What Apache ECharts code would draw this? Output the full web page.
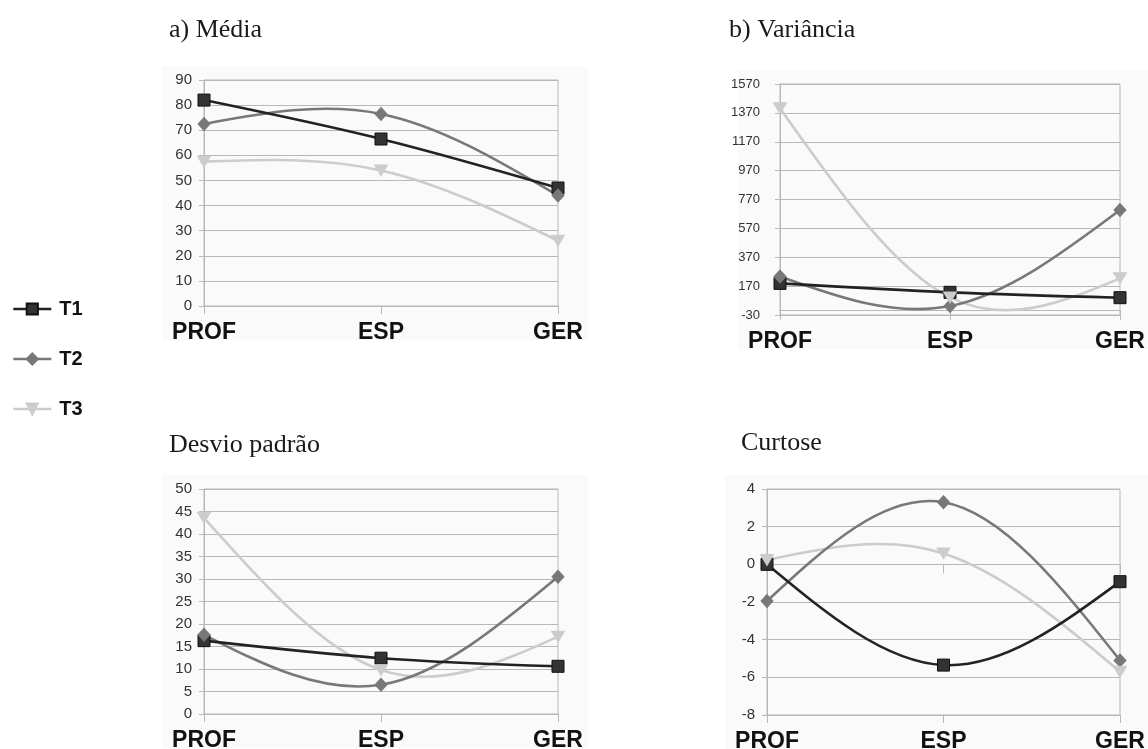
<!DOCTYPE html>
<html>
<head>
<meta charset="utf-8">
<script src="https://cdn.jsdelivr.net/npm/echarts@6/dist/echarts.min.js"></script>
<style>
  html, body { margin: 0; padding: 0; background: #ffffff; overflow: hidden; }
  #chart { width: 1148px; height: 749px; }
</style>
</head>
<body>
<div id="chart"></div>
<script>
// Categories shared by all four panels
const categories = ['PROF', 'ESP', 'GER'];
const seriesNames = ['T1', 'T2', 'T3'];

// a) Média
const mediaT1 = [82, 66.5, 47];
const mediaT2 = [72.5, 76.5, 44];
const mediaT3 = [57.5, 54, 26];

// b) Variância
const varT1 = [189, 127, 90];
const varT2 = [236, 32, 697];
const varT3 = [1402, 92, 224];

// Desvio padrão
const dpT1 = [16.3, 12.4, 10.6];
const dpT2 = [17.6, 6.5, 30.5];
const dpT3 = [43.6, 9.8, 17.2];

// Curtose
const curtT1 = [0, -5.35, -0.92];
const curtT2 = [-1.95, 3.3, -5.1];
const curtT3 = [0.23, 0.58, -5.7];

// Panel titles
const panelTitles = ['a) Média', 'b) Variância', 'Desvio padrão', 'Curtose'];

// Value axis ranges: [min, max, interval]
const axisRanges = [[0, 90, 10], [-30, 1570, 200], [0, 50, 5], [-8, 4, 2]];

const panelData = [
  [mediaT1, mediaT2, mediaT3],
  [varT1, varT2, varT3],
  [dpT1, dpT2, dpT3],
  [curtT1, curtT2, curtT3]
];

// Layout of each panel (pixels)
const grids = [
  { left: 204, top: 80, width: 354, height: 226 },
  { left: 780, top: 84, width: 340, height: 231 },
  { left: 204, top: 489, width: 354, height: 225 },
  { left: 767, top: 489, width: 353, height: 226 }
];
const titlePos = [
  { left: 164, top: 12 },
  { left: 724, top: 12 },
  { left: 164, top: 427 },
  { left: 736, top: 425 }
];
const yLabelFont = [15, 13, 15, 15];
const yLabelMargin = [12, 20, 12, 12];

const gridColor = '#b8b8b8';
const styles = [
  { color: '#333333', border: '#111111', symbol: 'rect', size: 12, rotate: 0, line: '#222222' },
  { color: '#787878', border: '#787878', symbol: 'diamond', size: [12, 13], rotate: 0, line: '#787878' },
  { color: '#cccccc', border: '#cccccc', symbol: 'triangle', size: [13, 11], rotate: 180, line: '#cccccc' }
];

// Natural cubic spline through pixel points, returned as Bezier segments
function splineSegments(pts) {
  const n = pts.length;
  if (n < 2) return [];
  const h = [], M = new Array(n).fill(0);
  for (let i = 0; i < n - 1; i++) h.push(pts[i + 1][0] - pts[i][0]);
  if (n > 2) {
    // tridiagonal system for interior second derivatives
    const a = [], b = [], c = [], d = [];
    for (let i = 1; i < n - 1; i++) {
      a.push(h[i - 1]);
      b.push(2 * (h[i - 1] + h[i]));
      c.push(h[i]);
      d.push(6 * ((pts[i + 1][1] - pts[i][1]) / h[i] - (pts[i][1] - pts[i - 1][1]) / h[i - 1]));
    }
    const m = b.length;
    for (let i = 1; i < m; i++) {
      const w = a[i] / b[i - 1];
      b[i] -= w * c[i - 1];
      d[i] -= w * d[i - 1];
    }
    const sol = new Array(m);
    sol[m - 1] = d[m - 1] / b[m - 1];
    for (let i = m - 2; i >= 0; i--) sol[i] = (d[i] - c[i] * sol[i + 1]) / b[i];
    for (let i = 0; i < m; i++) M[i + 1] = sol[i];
  }
  const segs = [];
  for (let i = 0; i < n - 1; i++) {
    const hi = h[i];
    const slope = (pts[i + 1][1] - pts[i][1]) / hi;
    const d0 = slope - hi * (2 * M[i] + M[i + 1]) / 6;
    const d1 = slope + hi * (M[i] + 2 * M[i + 1]) / 6;
    segs.push({
      x1: pts[i][0], y1: pts[i][1],
      cpx1: pts[i][0] + hi / 3, cpy1: pts[i][1] + d0 * hi / 3,
      cpx2: pts[i + 1][0] - hi / 3, cpy2: pts[i + 1][1] - d1 * hi / 3,
      x2: pts[i + 1][0], y2: pts[i + 1][1]
    });
  }
  return segs;
}

const option = {
  backgroundColor: '#ffffff',
  animation: false,
  title: panelTitles.map((t, i) => ({
    text: t,
    left: titlePos[i].left,
    top: titlePos[i].top,
    textStyle: {
      fontFamily: '"Liberation Serif", "Times New Roman", serif',
      fontWeight: 'normal',
      fontSize: 26,
      color: '#1a1a1a'
    }
  })),
  legend: {
    orient: 'vertical',
    left: 7,
    top: 294,
    itemWidth: 38,
    itemHeight: 14,
    itemGap: 30,
    data: seriesNames,
    lineStyle: { opacity: 1, width: 2.6 },
    textStyle: {
      fontFamily: '"Liberation Sans", Arial, sans-serif',
      fontWeight: 'bold',
      fontSize: 20,
      color: '#111111',
      padding: [0, 0, 0, 3]
    }
  },
  graphic: grids.map(g => ({
    type: 'rect',
    silent: true,
    z: -10,
    shape: { x: g.left - 42, y: g.top - 14, width: g.width + 72, height: g.height + 48 },
    style: { fill: '#fafafa' }
  })),
  grid: grids.map(g => ({
    left: g.left, top: g.top, width: g.width, height: g.height,
    outerBoundsMode: 'none',
    containLabel: false,
    show: true, borderColor: gridColor, borderWidth: 1, backgroundColor: 'transparent'
  })),
  xAxis: [],
  yAxis: [],
  series: []
};

grids.forEach((g, i) => {
  // labelled category axis along the bottom edge
  option.xAxis.push({
    type: 'category',
    gridIndex: i,
    data: categories,
    boundaryGap: false,
    position: 'bottom',
    axisLine: { onZero: false, lineStyle: { color: gridColor } },
    axisTick: { show: i !== 1, length: 8, lineStyle: { color: gridColor } },
    axisLabel: {
      margin: 15,
      fontFamily: '"Liberation Sans", Arial, sans-serif',
      fontWeight: 'bold',
      fontSize: 23,
      color: '#111111'
    },
    splitLine: { show: false }
  });
  option.yAxis.push({
    type: 'value',
    gridIndex: i,
    min: axisRanges[i][0],
    max: axisRanges[i][1],
    interval: axisRanges[i][2],
    axisLine: { show: true, lineStyle: { color: gridColor } },
    axisTick: { show: true, length: 5, lineStyle: { color: gridColor } },
    axisLabel: {
      margin: yLabelMargin[i],
      fontFamily: '"Liberation Sans", Arial, sans-serif',
      fontSize: yLabelFont[i],
      color: '#333333',
      formatter: v => String(v)
    },
    splitLine: { show: true, lineStyle: { color: gridColor, width: 1 } }
  });
});

// Extra category axes sitting on the zero line (variance and kurtosis panels)
[1, 3].forEach(i => {
  option.xAxis.push({
    type: 'category',
    gridIndex: i,
    data: categories,
    boundaryGap: false,
    position: 'bottom',
    axisLine: { onZero: true, onZeroAxisIndex: i, lineStyle: { color: gridColor } },
    axisTick: { show: true, length: 9, lineStyle: { color: gridColor } },
    axisLabel: { show: false },
    splitLine: { show: false }
  });
});

// Markers (line series, line hidden) first, so the legend takes its icons from them
panelData.forEach((sets, i) => {
  sets.forEach((values, k) => {
    const s = styles[k];
    option.series.push({
      name: seriesNames[k],
      type: 'line',
      xAxisIndex: i,
      yAxisIndex: i,
      data: values,
      symbol: s.symbol,
      symbolSize: s.size,
      symbolRotate: s.rotate,
      showAllSymbol: true,
      clip: false,
      z: 10 + k,
      lineStyle: { color: s.line, width: 2.6, opacity: 0 },
      itemStyle: { color: s.color, borderColor: s.border, borderWidth: 1 }
    });
  });
});

// Spline curves through the same values
panelData.forEach((sets, i) => {
  sets.forEach((values, k) => {
    const s = styles[k];
    option.series.push({
      name: seriesNames[k],
      type: 'custom',
      xAxisIndex: i,
      yAxisIndex: i,
      clip: false,
      z: 5 - k,
      data: values.map((v, j) => [j, v]),
      encode: { x: 0, y: 1 },
      renderItem: (params, api) => {
        if (params.dataIndex !== 0) return null;
        const pts = values.map((v, j) => api.coord([j, v]));
        return {
          type: 'group',
          children: splineSegments(pts).map(seg => ({
            type: 'bezierCurve',
            shape: seg,
            style: { stroke: s.line, lineWidth: 2.6, fill: null }
          }))
        };
      }
    });
  });
});

const chart = echarts.init(document.getElementById('chart'), null, { renderer: 'canvas' });
chart.setOption(option);
</script>
</body>
</html>
